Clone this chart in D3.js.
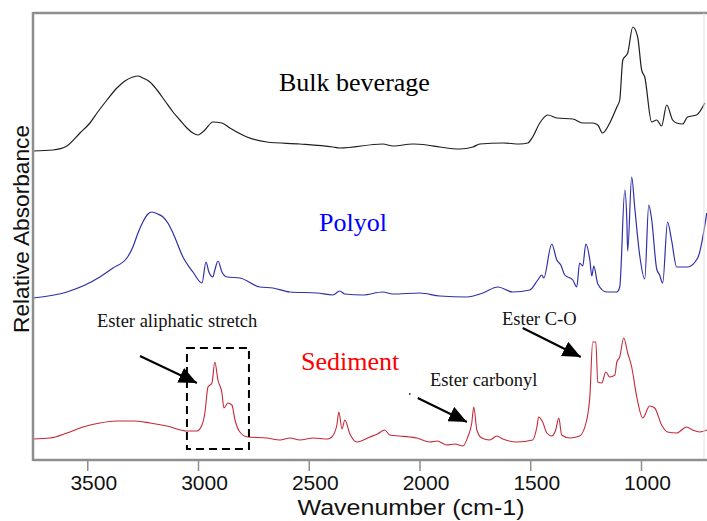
<!DOCTYPE html>
<html><head><meta charset="utf-8">
<script src="https://cdn.jsdelivr.net/npm/d3@7"></script>
<style>html,body{margin:0;padding:0;background:#fff;}svg{display:block;}</style>
</head><body>
<svg id="chart" width="707" height="521"></svg>
<script>
// ---- data (wavenumber cm-1, relative absorbance) ----
const bulkWn  = [3745,3655,3592,3533,3488,3456,3411,3366,3330,3294,3271,3249,3217,3185,3149,3113,3082,3050,3023,3000,2969,2933,2892,2856,2779,2689,2540,2391,2360,2166,2120,2030,1967,1908,1818,1759,1728,1624,1547,1511,1489,1457,1421,1380,1308,1263,1218,1195,1173,1141,1109,1096,1082,1060,1037,1015,997,983,952,929,907,884,857,839,812,790,749,712];
const bulkAbs = [3.10,3.11,3.15,3.28,3.38,3.48,3.61,3.73,3.80,3.84,3.85,3.83,3.79,3.71,3.60,3.49,3.41,3.33,3.28,3.26,3.31,3.39,3.38,3.33,3.24,3.19,3.17,3.14,3.13,3.17,3.15,3.17,3.16,3.14,3.12,3.14,3.17,3.18,3.17,3.18,3.24,3.38,3.46,3.43,3.42,3.38,3.38,3.36,3.28,3.38,3.54,3.61,4.01,4.08,4.34,4.24,3.91,3.84,3.39,3.41,3.35,3.56,3.41,3.38,3.37,3.44,3.46,3.58];

const polyolWn  = [3745,3592,3443,3384,3321,3294,3271,3249,3226,3208,3181,3158,3136,3113,3068,3023,2982,2964,2951,2933,2924,2910,2892,2869,2811,2721,2662,2585,2463,2391,2360,2337,2256,2166,2120,1998,1908,1786,1714,1646,1579,1502,1466,1448,1439,1403,1380,1362,1344,1308,1290,1277,1263,1249,1231,1222,1213,1195,1155,1109,1096,1073,1064,1060,1042,1028,1006,983,965,952,929,916,902,880,862,839,790,744,703];
const polyolAbs = [1.63,1.69,1.84,1.93,2.03,2.14,2.28,2.39,2.47,2.49,2.47,2.44,2.38,2.28,2.04,1.89,1.78,1.99,1.89,1.84,1.91,2.00,1.89,1.84,1.83,1.74,1.73,1.69,1.68,1.66,1.70,1.67,1.66,1.69,1.67,1.68,1.65,1.64,1.68,1.74,1.69,1.71,1.81,1.86,1.83,2.17,2.01,1.96,1.86,1.81,1.74,1.98,1.95,2.17,2.01,1.85,1.95,1.77,1.69,1.69,1.74,2.71,2.41,2.10,2.84,2.53,2.06,1.82,2.56,2.42,1.92,1.86,1.78,2.39,2.21,1.94,1.94,2.03,2.48];

const sedWn  = [3745,3668,3592,3519,3443,3366,3294,3217,3140,3050,3005,2982,2969,2955,2937,2924,2910,2892,2883,2865,2847,2833,2811,2775,2689,2630,2585,2540,2480,2414,2396,2373,2364,2350,2337,2314,2283,2224,2190,2157,2134,2090,2044,2012,1953,1920,1877,1840,1804,1782,1764,1755,1741,1719,1683,1651,1624,1561,1489,1470,1462,1444,1425,1403,1385,1371,1358,1322,1277,1245,1231,1218,1204,1195,1177,1159,1141,1118,1109,1096,1078,1060,1042,1019,992,961,938,907,880,839,794,767,735,703];
const sedAbs = [0.22,0.23,0.28,0.34,0.38,0.40,0.40,0.38,0.35,0.30,0.30,0.36,0.48,0.74,0.78,0.99,0.81,0.68,0.53,0.58,0.56,0.41,0.29,0.24,0.23,0.21,0.23,0.21,0.23,0.22,0.24,0.36,0.49,0.32,0.41,0.27,0.19,0.24,0.27,0.31,0.26,0.25,0.24,0.23,0.19,0.20,0.16,0.17,0.15,0.24,0.38,0.54,0.31,0.23,0.21,0.25,0.22,0.19,0.21,0.34,0.44,0.39,0.28,0.25,0.31,0.43,0.26,0.23,0.25,0.41,0.64,1.19,1.19,0.79,0.78,0.89,0.84,0.86,0.99,1.04,1.23,1.08,0.94,0.64,0.43,0.55,0.53,0.36,0.29,0.28,0.34,0.31,0.29,0.31];

const xTicks = [3500,3000,2500,2000,1500,1000];
const seriesNames = ["Bulk beverage","Polyol","Sediment"];

// ---- drawing ----
const svg = d3.select("#chart");
const L = 33, R = 703, T = 13, B = 461;
const x = d3.scaleLinear().domain([3745, 720]).range([L, R]);
const y = d3.scaleLinear().domain([0, 4.48]).range([B, T]);

svg.append("rect").attr("width",707).attr("height",521).attr("fill","#fff");

const line = d3.line().x(d => x(d[0])).y(d => y(d[1])).curve(d3.curveMonotoneX);
const series = [
  {wn: bulkWn, ab: bulkAbs, color: "#1e1e1e", w: 1.2},
  {wn: polyolWn, ab: polyolAbs, color: "#2f2fa8", w: 1.2},
  {wn: sedWn, ab: sedAbs, color: "#c42838", w: 1.1}
];
series.forEach(s => {
  svg.append("path")
    .datum(s.wn.map((v,i) => [v, s.ab[i]]))
    .attr("fill","none").attr("stroke", s.color).attr("stroke-width", s.w)
    .attr("stroke-linejoin","round")
    .attr("d", line);
});

// frame
const gray = "#8e8e8e";
svg.append("line").attr("x1",L).attr("x2",707).attr("y1",T).attr("y2",T).attr("stroke",gray).attr("stroke-width",2.5);
svg.append("line").attr("x1",L).attr("x2",L).attr("y1",T-1).attr("y2",B).attr("stroke",gray).attr("stroke-width",2.5);
svg.append("line").attr("x1",L).attr("x2",707).attr("y1",460).attr("y2",460).attr("stroke",gray).attr("stroke-width",2.5);
svg.append("line").attr("x1",704).attr("x2",704).attr("y1",T).attr("y2",459).attr("stroke","#e2e2e2").attr("stroke-width",1);

// x axis ticks
const ax = svg.append("g").attr("transform","translate(0,461)")
  .call(d3.axisBottom(x).tickValues(xTicks).tickSize(10).tickFormat(d3.format("d")));
ax.select(".domain").remove();
ax.selectAll(".tick line").attr("stroke",gray).attr("stroke-width",1.5);
ax.selectAll(".tick text").attr("y",29).attr("dy",0).attr("dx",6)
  .attr("font-family","Liberation Sans, Arial, sans-serif").attr("font-size",21).attr("fill","#111");

// axis titles
svg.append("text").attr("x",411).attr("y",515).attr("text-anchor","middle")
  .attr("font-family","Liberation Sans, Arial, sans-serif").attr("font-size",22)
  .attr("textLength",227).attr("lengthAdjust","spacingAndGlyphs").attr("fill","#111")
  .text("Wavenumber (cm-1)");
svg.append("text").attr("transform","translate(28.5,229) rotate(-90)").attr("text-anchor","middle")
  .attr("font-family","Liberation Sans, Arial, sans-serif").attr("font-size",22)
  .attr("textLength",208).attr("lengthAdjust","spacingAndGlyphs").attr("fill","#111")
  .text("Relative Absorbance");

// series labels
const serif = "Liberation Serif, Times New Roman, serif";
svg.append("text").attr("x",279).attr("y",91).attr("font-family",serif).attr("font-size",26).attr("fill","#000").text(seriesNames[0]);
svg.append("text").attr("x",319).attr("y",231).attr("font-family",serif).attr("font-size",26).attr("fill","#0000ff").text(seriesNames[1]);
svg.append("text").attr("x",301).attr("y",370).attr("font-family",serif).attr("font-size",26).attr("fill","#ff0000").text(seriesNames[2]);

// annotations
svg.append("text").attr("x",97).attr("y",327).attr("font-family",serif).attr("font-size",18.5).attr("fill","#111").text("Ester aliphatic stretch");
svg.append("text").attr("x",430).attr("y",386).attr("font-family",serif).attr("font-size",18.5).attr("fill","#111").text("Ester carbonyl");
svg.append("text").attr("x",502).attr("y",325).attr("font-family",serif).attr("font-size",18.5).attr("fill","#111").text("Ester C-O");

// dashed box around aliphatic stretch
svg.append("rect").attr("x",x(3050)).attr("y",y(1.13)).attr("width",x(2770)-x(3050)).attr("height",y(0.12)-y(1.13))
  .attr("fill","none").attr("stroke","#000").attr("stroke-width",2).attr("stroke-dasharray","8,5");

// arrows
const defs = svg.append("defs");
defs.append("marker").attr("id","ah").attr("markerUnits","userSpaceOnUse")
  .attr("markerWidth",20).attr("markerHeight",16).attr("refX",18).attr("refY",8)
  .attr("orient","auto")
  .append("path").attr("d","M0,0 L18,8 L0,16 Z").attr("fill","#000");
const arrows = [
  [[3262,1.05],[3005,0.78]],
  [[2008,0.63],[1786,0.39]],
  [[1534,1.33],[1272,1.04]]
];
arrows.forEach(a => {
  svg.append("line").attr("x1",x(a[0][0])).attr("y1",y(a[0][1])).attr("x2",x(a[1][0])).attr("y2",y(a[1][1]))
    .attr("stroke","#000").attr("stroke-width",2).attr("marker-end","url(#ah)");
});
svg.append("circle").attr("cx",x(2044)).attr("cy",y(0.67)).attr("r",0.9).attr("fill","#333");
</script>
</body></html>
